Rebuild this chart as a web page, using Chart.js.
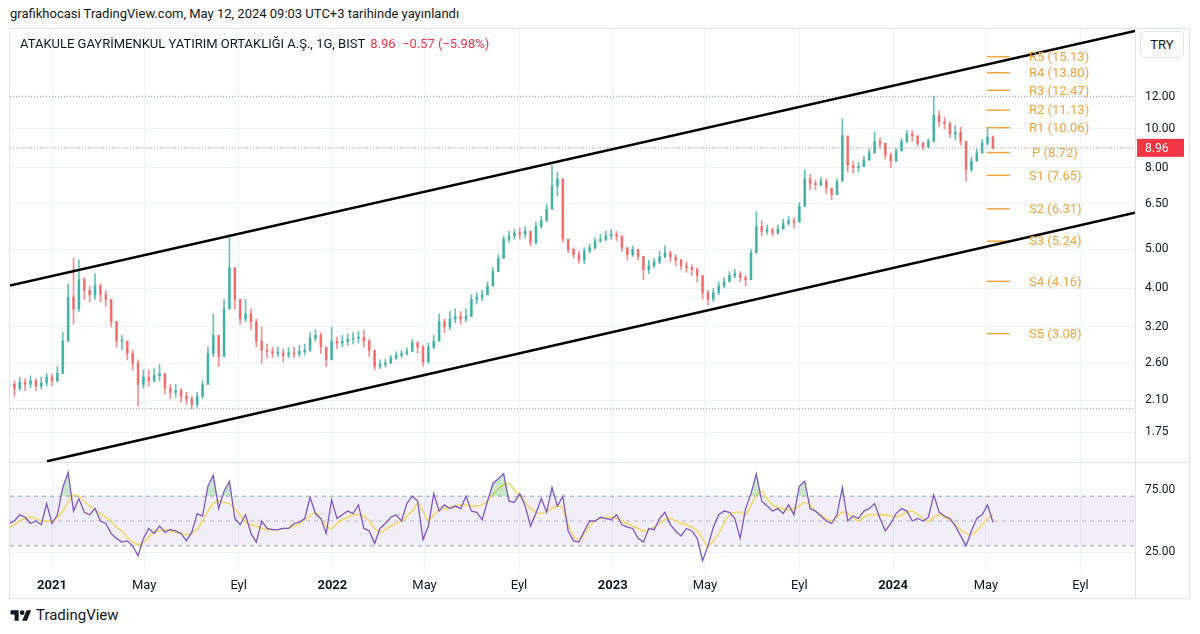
<!DOCTYPE html>
<html>
<head>
<meta charset="utf-8">
<script src="https://cdn.jsdelivr.net/npm/chart.js@4.4.1/dist/chart.umd.min.js"></script>
<style>
  body { margin: 0; width: 1200px; height: 634px; background: #fff; position: relative; overflow: hidden;
         font-family: Roboto, "Noto Sans", sans-serif; color: #131722; }
  #pub { position: absolute; left: 10px; top: 6px; font-size: 13px; white-space: nowrap; }
  #frame { position: absolute; left: 9px; top: 28px; width: 1179px; height: 569px; border: 1px solid #e0e3eb; }
  #legend { position: absolute; left: 20px; top: 36px; font-size: 13px; white-space: nowrap; }
  #legend .chg { color: #f23645; margin-left: 2px; }
  #try { position: absolute; left: 1140px; top: 31px; width: 42px; height: 25px; border: 1px solid #e0e3eb;
         border-radius: 5px; font-size: 13px; line-height: 25px; text-align: center; background: #fff; }
  #sepH { position: absolute; left: 10px; top: 462px; width: 1179px; height: 1px; background: #e0e3eb; }
  #sepV { position: absolute; left: 1135px; top: 29px; width: 1px; height: 569px; background: #e0e3eb; }
  #main { position: absolute; left: 10px; top: 29px; }
  #rsi { position: absolute; left: 10px; top: 463px; }
  #logo { position: absolute; left: 10px; top: 606px; font-size: 15px; display: flex; align-items: center; gap: 4px; }
</style>
</head>
<body>
<div id="pub">grafikhocasi TradingView.com, May 12, 2024 09:03 UTC+3 tarihinde yayınlandı</div>
<div id="frame"></div>
<canvas id="main" width="1179" height="434"></canvas>
<canvas id="rsi" width="1179" height="135"></canvas>
<div id="sepH"></div>
<div id="sepV"></div>
<div id="legend">ATAKULE GAYRİMENKUL YATIRIM ORTAKLIĞI A.Ş., 1G, BIST <span class="chg">8.96&nbsp;&nbsp;−0.57 (−5.98%)</span></div>
<div id="try">TRY</div>
<div id="logo">
  <svg width="22" height="14" viewBox="0 0 36 24"><path d="M14 22H7V11H0V4h14v18z" fill="#131722"/><circle cx="20" cy="8" r="4" fill="#131722"/><path d="M28 22h-8l7.5-18h8L28 22z" fill="#131722"/></svg>
  <span>TradingView</span>
</div>
<script>
// weekly candles, first week starts 56 days before 1 Jan 2021
const firstWeekDay = -56;
const firstOpen = 2.28;
const closes = [
  2.30,2.25,2.33,2.30,2.35,2.28,2.32,2.40,2.35,2.45,
  2.95,3.80,3.55,4.20,3.95,3.85,4.05,3.85,3.75,3.30,
  2.95,2.95,2.75,2.60,2.30,2.40,2.35,2.42,2.45,2.25,
  2.20,2.22,2.15,2.12,2.05,2.15,2.30,2.75,3.05,2.70,
  3.55,4.50,3.75,3.35,3.45,3.30,2.95,2.80,2.78,2.75,
  2.76,2.72,2.76,2.74,2.78,2.80,3.00,3.05,2.85,2.65,
  2.95,2.92,2.95,2.98,3.00,3.02,2.95,2.80,2.55,2.58,
  2.60,2.68,2.72,2.75,2.78,2.92,2.85,2.62,2.85,2.95,
  3.30,3.20,3.35,3.40,3.35,3.40,3.75,3.80,3.85,4.05,
  4.40,4.75,5.30,5.40,5.50,5.45,5.55,5.20,5.70,5.90,
  6.30,7.20,7.50,5.30,5.00,4.85,4.70,4.95,5.05,5.25,
  5.30,5.40,5.45,5.40,5.05,4.85,5.00,4.80,4.45,4.55,
  4.65,4.80,4.90,4.78,4.70,4.55,4.50,4.45,4.30,3.90,
  3.75,3.90,4.05,4.15,4.30,4.35,4.25,4.20,4.90,5.70,
  5.55,5.60,5.50,5.62,5.80,5.90,5.85,6.40,7.50,7.30,
  7.25,7.40,7.10,6.85,7.40,9.60,8.10,8.00,8.05,8.35,
  8.70,9.30,9.20,8.60,8.30,8.80,9.30,9.70,9.60,9.20,
  9.00,9.30,10.80,10.40,10.30,9.70,9.80,9.30,7.90,8.30,
  8.70,9.20,9.53,8.96
];
const highs = [
  2.40,2.35,2.40,2.38,2.42,2.38,2.40,2.45,2.44,2.55,
  3.10,4.10,4.75,4.70,4.25,4.05,4.35,4.10,3.95,3.75,
  3.30,3.05,2.95,2.80,2.65,2.50,2.50,2.52,2.58,2.45,
  2.30,2.30,2.25,2.20,2.15,2.20,2.35,2.85,3.45,3.05,
  3.75,5.45,4.50,3.75,3.75,3.55,3.35,3.20,2.90,2.85,
  2.85,2.82,2.84,2.85,2.88,2.90,3.10,3.15,3.10,2.85,
  3.20,3.02,3.05,3.08,3.10,3.12,3.15,2.98,2.80,2.65,
  2.66,2.72,2.78,2.80,2.84,2.98,2.95,2.88,2.92,3.05,
  3.45,3.35,3.50,3.55,3.50,3.55,3.85,3.90,3.95,4.15,
  4.50,4.85,5.40,5.55,5.60,5.65,5.70,5.55,5.85,6.05,
  6.50,8.10,7.80,7.50,5.30,5.05,4.95,5.05,5.15,5.35,
  5.45,5.55,5.60,5.55,5.40,5.05,5.10,5.00,4.80,4.70,
  4.75,4.95,5.10,4.95,4.85,4.72,4.65,4.58,4.50,4.30,
  3.95,4.00,4.15,4.25,4.40,4.45,4.40,4.30,5.00,6.20,
  5.90,5.75,5.65,5.75,5.95,6.05,6.00,6.55,7.90,7.70,
  7.45,7.55,7.50,7.10,7.50,10.60,9.60,8.30,8.25,8.55,
  8.90,9.80,9.50,9.20,8.70,8.95,9.45,9.90,9.90,9.60,
  9.25,9.45,12.05,11.10,10.70,10.40,10.20,10.10,9.30,8.50,
  8.90,9.40,10.10,9.60
];
const lows = [
  2.18,2.15,2.22,2.22,2.26,2.22,2.24,2.28,2.28,2.33,
  2.45,2.95,3.25,3.50,3.75,3.70,3.75,3.70,3.60,3.20,
  2.85,2.80,2.65,2.50,2.03,2.25,2.28,2.33,2.35,2.18,
  2.12,2.14,2.08,2.05,2.00,2.02,2.12,2.30,2.70,2.55,
  2.70,3.55,3.55,3.25,3.30,3.15,2.85,2.60,2.68,2.68,
  2.70,2.62,2.68,2.68,2.70,2.72,2.78,2.95,2.75,2.55,
  2.65,2.82,2.85,2.88,2.90,2.92,2.85,2.70,2.50,2.52,
  2.54,2.60,2.65,2.68,2.72,2.78,2.75,2.55,2.60,2.82,
  2.95,3.10,3.15,3.28,3.25,3.30,3.40,3.65,3.72,3.85,
  4.05,4.40,4.75,5.20,5.30,5.30,5.35,5.10,5.15,5.65,
  5.85,6.30,6.80,5.20,4.90,4.75,4.62,4.60,4.90,5.00,
  5.20,5.25,5.30,5.25,4.95,4.70,4.80,4.70,4.20,4.35,
  4.50,4.60,4.75,4.65,4.55,4.45,4.38,4.30,4.15,3.75,
  3.62,3.70,3.85,4.00,4.15,4.25,4.15,4.05,4.20,4.90,
  5.40,5.45,5.40,5.45,5.65,5.75,5.65,5.85,6.40,7.05,
  7.05,7.20,6.90,6.65,6.85,7.40,7.80,7.75,7.80,8.10,
  8.40,8.70,8.95,8.40,8.00,8.30,8.80,9.25,9.30,9.05,
  8.85,8.95,9.30,10.10,10.00,9.50,9.40,9.10,7.40,7.80,
  8.30,8.80,9.10,8.90
];
const rsi = [
  48,50,55,53,48,50,47,64,48,55,
  77,89,58,68,57,55,60,50,48,40,
  36,33,34,30,22,36,44,40,46,41,
  43,42,40,34,41,56,54,78,87,60,
  74,82,52,47,55,40,33,50,44,43,
  43,44,44,48,49,52,69,56,52,40,
  67,52,55,58,56,63,44,42,32,44,
  48,53,55,50,64,70,66,35,46,72,
  58,63,60,62,60,70,58,57,51,66,
  80,84,88,66,65,72,62,46,56,68,
  57,77,62,70,42,34,33,42,50,50,
  53,52,51,55,47,45,44,36,33,44,
  43,52,57,47,42,38,44,42,36,18,
  30,45,55,58,57,52,36,60,72,88,
  66,62,58,60,56,63,55,78,82,60,
  58,54,50,48,55,77,50,54,52,58,
  60,64,52,42,48,56,60,58,50,52,
  50,53,71,57,54,52,46,38,30,42,
  52,55,63,49
];
const rsiMA = [
  45,47,50,52,53,52,50,50,50,53,
  58,65,71,70,66,62,59,56,53,50,
  45,42,37,33,31,33,37,41,42,43,
  42,41,40,39,40,44,50,58,64,66,
  65,64,60,55,49,47,46,44,43,43,
  43,44,44,46,48,51,54,57,52,46,
  44,48,51,53,55,55,54,50,44,41,
  43,46,48,50,54,58,64,58,50,55,
  59,60,61,62,63,63,62,62,63,66,
  71,76,79,80,75,70,65,60,57,56,
  58,60,62,60,47,38,35,40,46,50,
  52,53,53,52,50,48,46,44,42,43,
  45,48,51,52,50,48,47,45,42,36,
  30,34,40,48,55,57,57,55,63,70,
  74,68,63,61,60,59,60,62,65,63,
  58,55,52,50,53,57,56,53,50,53,
  55,55,55,55,54,53,55,57,58,55,
  52,50,53,55,53,51,47,43,40,39,
  42,47,52,55
];
const pivotNames = ['R5','R4','R3','R2','R1','P','S1','S2','S3','S4','S5'];
const pivotValues = [15.13, 13.80, 12.47, 11.13, 10.06, 8.72, 7.65, 6.31, 5.24, 4.16, 3.08];
const priceTicks = [1.75, 2.10, 2.60, 3.20, 4.00, 5.00, 6.50, 8.00, 10.00, 12.00];
const rsiTicks = [25, 75];
const rsiLevels = [70, 50, 30];
const monthTicks = [0, 120, 243, 365, 485, 608, 730, 850, 973, 1095, 1216, 1339];
const monthLabels = ['2021','May','Eyl','2022','May','Eyl','2023','May','Eyl','2024','May','Eyl'];
const yearTicks = [0, 365, 730, 1095];
const upperChannel = [{ x: -54.7, y: 4.06 }, { x: 1410, y: 17.53 }];
const lowerChannel = [{ x: -6.5, y: 1.48 }, { x: 1410, y: 6.17 }];
const highLine = 12.05, lowLine = 2.00, lastPrice = 8.96;

const xMin = -54.7, xMax = 1410;
const pivotFrom = 1217, pivotTo = 1247, pivotLabelDay = 1272;
const UP = 'rgba(38,166,154,0.7)', DOWN = 'rgba(239,83,80,0.65)';
const PIVOT = '#eea540', GRID = '#f0f3fa';
const FONT = 'Roboto, "Noto Sans", sans-serif';

Chart.defaults.font.family = FONT;
Chart.defaults.font.size = 12;
Chart.defaults.color = '#131722';
Chart.defaults.animation = false;

const dayOf = i => firstWeekDay + 7 * i;
const opens = closes.map((c, i) => i === 0 ? firstOpen : closes[i - 1]);
const wicks = closes.map((c, i) => ({ x: dayOf(i), y: [Math.min(lows[i], opens[i], c), Math.max(highs[i], opens[i], c)] }));
const bodies = closes.map((c, i) => ({ x: dayOf(i), y: [Math.min(opens[i], c), Math.max(opens[i], c)] }));
const colors = closes.map((c, i) => c >= opens[i] ? UP : DOWN);
const across = v => [{ x: xMin, y: v }, { x: xMax, y: v }];

const flatLine = (data, color, width, dash) => ({
  type: 'line', data, borderColor: color, borderWidth: width, borderDash: dash || [],
  pointRadius: 0, fill: false, tension: 0
});

const pivotDatasets = pivotValues.map(v =>
  flatLine([{ x: pivotFrom, y: v }, { x: pivotTo, y: v }], PIVOT, 1.5));

const pivotLabels = {
  id: 'pivotLabels',
  afterDatasetsDraw(chart) {
    const { ctx, scales: { x, y } } = chart;
    ctx.save();
    ctx.font = '13px ' + FONT;
    ctx.fillStyle = PIVOT;
    ctx.textBaseline = 'middle';
    pivotNames.forEach((n, k) => {
      const px = x.getPixelForValue(pivotLabelDay) + (n === 'P' ? 3 : 0);
      ctx.fillText(n + ' (' + pivotValues[k].toFixed(2) + ')', px, y.getPixelForValue(pivotValues[k]) + 1);
    });
    ctx.restore();
  }
};

const priceTag = {
  id: 'priceTag',
  afterDraw(chart) {
    const { ctx, chartArea } = chart;
    const py = chart.scales.y.getPixelForValue(lastPrice);
    ctx.save();
    ctx.fillStyle = '#f23645';
    ctx.fillRect(chartArea.right + 2, py - 9, 47, 18);
    ctx.fillStyle = '#fff';
    ctx.font = '12px ' + FONT;
    ctx.textBaseline = 'middle';
    ctx.fillText(lastPrice.toFixed(2), chartArea.right + 10, py + 1);
    ctx.restore();
  }
};

new Chart(document.getElementById('main'), {
  type: 'bar',
  data: {
    datasets: [
      flatLine(upperChannel, '#000', 2.5),
      flatLine(lowerChannel, '#000', 2.5),
      ...pivotDatasets,
      flatLine(across(highLine), '#9598a1', 1, [1, 2]),
      flatLine(across(lowLine), '#9598a1', 1, [1, 2]),
      flatLine(across(lastPrice), '#9598a1', 1, [1, 2]),
      { type: 'bar', data: bodies, backgroundColor: colors, barThickness: 2, grouped: false, minBarLength: 1, order: 5 },
      { type: 'bar', data: wicks, backgroundColor: colors, barThickness: 1, grouped: false, order: 6 }
    ]
  },
  options: {
    responsive: false,
    layout: { padding: 0 },
    plugins: { legend: { display: false }, tooltip: { enabled: false } },
    scales: {
      x: {
        type: 'linear', min: xMin, max: xMax, offset: false,
        afterBuildTicks: s => { s.ticks = monthTicks.map(v => ({ value: v })); },
        afterFit: s => { s.height = 0; s.paddingLeft = 0; s.paddingRight = 0; },
        ticks: { display: false },
        grid: { color: GRID, drawTicks: false, offset: false },
        border: { display: false }
      },
      y: {
        type: 'logarithmic', position: 'right', min: 1.4645, max: 17.74,
        afterBuildTicks: s => { s.ticks = priceTicks.map(v => ({ value: v })); },
        afterFit: s => { s.width = 54; s.paddingTop = 0; s.paddingBottom = 0; },
        ticks: { padding: 10, callback: v => Number(v).toFixed(2), font: { size: 12 } },
        grid: { color: GRID, drawTicks: false },
        border: { display: false }
      }
    }
  },
  plugins: [pivotLabels, priceTag]
});

const rsiPoints = rsi.map((v, i) => ({ x: dayOf(i), y: v }));
const maPoints = rsiMA.map((v, i) => ({ x: dayOf(i), y: v }));
const LEVEL = 'rgba(120,123,134,0.7)';

new Chart(document.getElementById('rsi'), {
  type: 'line',
  data: {
    datasets: [
      { data: rsiPoints, borderColor: '#7e57c2', borderWidth: 1.3, pointRadius: 0, tension: 0, order: 0,
        fill: { target: { value: 70 }, above: 'rgba(76,175,80,0.3)', below: 'rgba(0,0,0,0)' } },
      { data: maPoints, borderColor: 'rgba(242,214,80,0.9)', borderWidth: 1.5, pointRadius: 0, tension: 0.3, order: 1 },
      Object.assign(flatLine(across(rsiLevels[0]), LEVEL, 1, [4, 4]),
        { fill: { target: { value: rsiLevels[2] } }, backgroundColor: 'rgba(126,87,194,0.1)', order: 5 }),
      Object.assign(flatLine(across(rsiLevels[1]), 'rgba(120,123,134,0.45)', 1, [4, 4]), { order: 5 }),
      Object.assign(flatLine(across(rsiLevels[2]), LEVEL, 1, [4, 4]), { order: 5 })
    ]
  },
  options: {
    responsive: false,
    layout: { padding: 0 },
    plugins: { legend: { display: false }, tooltip: { enabled: false } },
    scales: {
      x: {
        type: 'linear', min: xMin, max: xMax,
        afterBuildTicks: s => { s.ticks = monthTicks.map(v => ({ value: v })); },
        afterFit: s => { s.height = 28; s.paddingLeft = 0; s.paddingRight = 0; },
        ticks: {
          padding: 8, maxRotation: 0, autoSkip: false,
          callback: (v, i) => monthLabels[i],
          font: c => ({ size: 13, weight: yearTicks.includes(c.tick && c.tick.value) ? 'bold' : 'normal' })
        },
        grid: { color: GRID, drawTicks: false },
        border: { display: false }
      },
      y: {
        type: 'linear', position: 'right', min: 10.56, max: 96.68,
        afterBuildTicks: s => { s.ticks = rsiTicks.map(v => ({ value: v })); },
        afterFit: s => { s.width = 54; s.paddingTop = 0; s.paddingBottom = 0; },
        ticks: { padding: 10, callback: v => Number(v).toFixed(2), font: { size: 12 } },
        grid: { color: GRID, drawTicks: false },
        border: { display: false }
      }
    }
  }
});
</script>
</body>
</html>
